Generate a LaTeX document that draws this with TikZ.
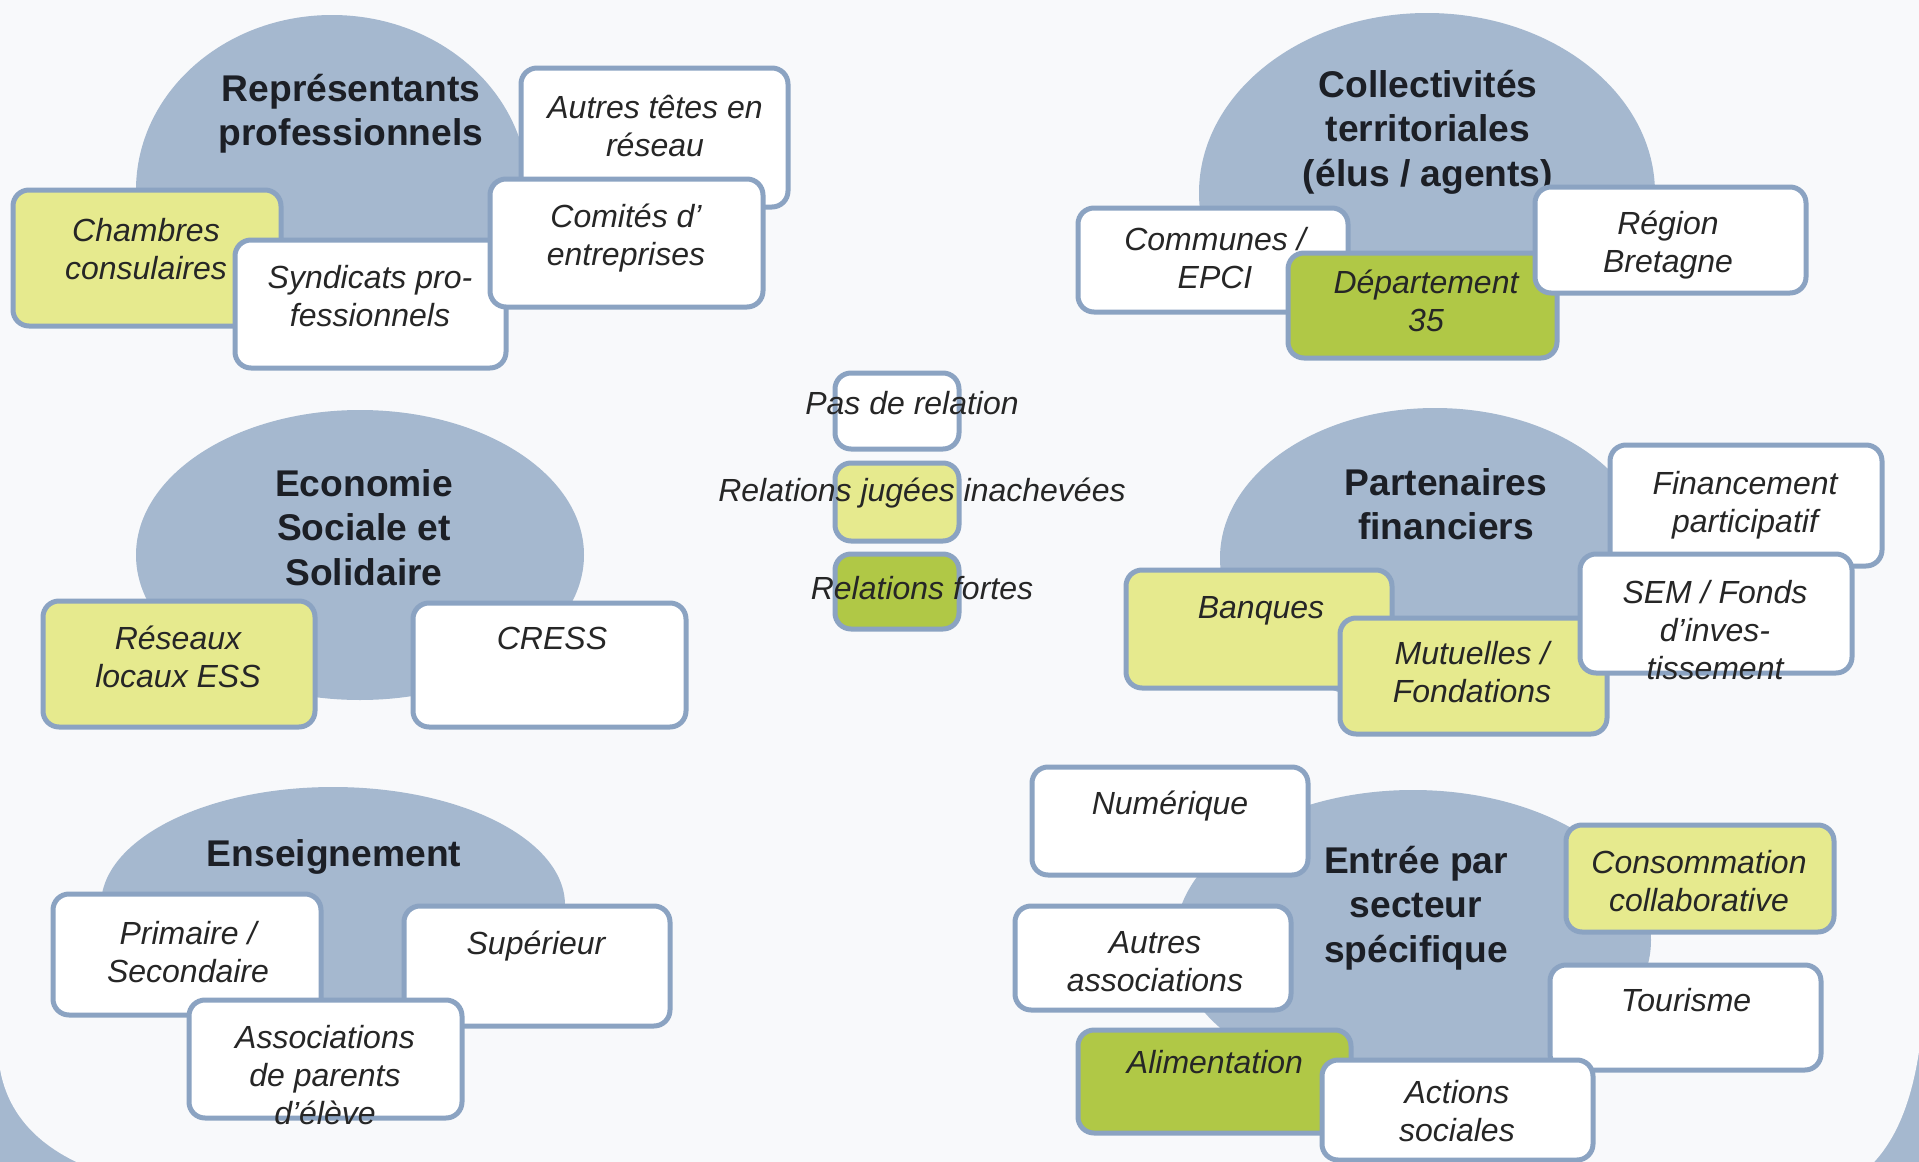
\documentclass[tikz,border=0pt]{standalone}
\usepackage{fontspec}
\setmainfont{Liberation Sans}
\usetikzlibrary{fit,shapes.geometric}
\definecolor{pagebg}{HTML}{F8F9FB}
\definecolor{blobc}{HTML}{A5B8CF}
\definecolor{bord}{HTML}{8BA3C2}
\definecolor{yel}{HTML}{E6EA8E}
\definecolor{grn}{HTML}{B0C846}
\definecolor{ink}{HTML}{262626}
\definecolor{tink}{HTML}{1C1F26}
\begin{document}
\begin{tikzpicture}[x=0.5pt,y=-0.5pt,
  blobshape/.style={ellipse, fill=blobc, draw=none, inner sep=0},
  bx/.style={draw=bord, line width=2.5pt, rounded corners=8pt, inner sep=0, fill=white},
  lab/.style={anchor=base, align=center, inner sep=0, text=ink, font=\fontsize{16}{19.2}\selectfont\itshape},
  ttl/.style={anchor=base, align=center, inner sep=0, text=tink, font=\fontsize{18.6}{22.4}\selectfont\bfseries},
]
\useasboundingbox (0,0) rectangle (1919,1162);
% background
\fill[blobc] (0,0) rectangle (1919,1162);
\fill[pagebg] (-5,-5) -- (1925,-5) -- (1925,960) .. controls (1925,1070) and (1905,1140) .. (1860,1175) -- (110,1175) .. controls (45,1155) and (-2,1115) .. (-2,1045) -- cycle;

% blobs
\begin{scope}
\clip (0,0) rectangle (800,322);
\node[blobshape, minimum width=196pt, minimum height=175pt] (b1) at (332,190) {};
\end{scope}
\begin{scope}
\clip (1000,0) rectangle (1919,290);
\node[blobshape, minimum width=228pt, minimum height=180pt] (b2) at (1427,193) {};
\end{scope}
\node[blobshape, minimum width=224pt, minimum height=145pt] (b3) at (360,555) {};
\node[blobshape, minimum width=215pt, minimum height=150pt] (b4) at (1435,558) {};
\node[blobshape, minimum width=232pt, minimum height=118pt] (b5) at (333,905) {};
\node[blobshape, minimum width=238pt, minimum height=150pt] (b6) at (1413,940) {};

% titles
\node[ttl] (t1) at (351,145.8) {Représentants\\professionnels};
\node[ttl] (t2) at (1428,186.6) {Collectivités\\territoriales\\(élus / agents)};
\node[ttl] (t3) at (364,585.6) {Economie\\Sociale et\\Solidaire};
\node[ttl] (t4) at (1446,539.8) {Partenaires\\financiers};
\node[ttl] (t5) at (334,866) {Enseignement};
\node[ttl] (t6) at (1416,962.6) {Entrée par\\secteur\\spécifique};

% group 1
\node[bx, fill=yel, fit={(13,190) (281,326)}] (chambres) {};
\node[lab] (tchambres) at (146,279.4) {Chambres\\consulaires};
\node[bx, fit={(235,240) (506,368)}] (syndicats) {};
\node[lab] (tsyndicats) at (370,326.4) {Syndicats pro-\\fessionnels};
\node[bx, fit={(521,68) (788,207)}] (autres) {};
\node[lab] (tautres) at (655,156.4) {Autres têtes en\\réseau};
\node[bx, fit={(490,179) (763,307)}] (comites) {};
\node[lab] (tcomites) at (626,265.4) {Comités d’\\entreprises};

% group 2
\node[bx, fit={(1078,208) (1348,312)}] (communes) {};
\node[lab] (tcommunes) at (1215,288.4) {Communes /\\EPCI};
\node[bx, fill=grn, fit={(1288,253) (1557,358)}] (dept) {};
\node[lab] (tdept) at (1426,331.4) {Département\\35};
\node[bx, fit={(1535,187) (1806,293)}] (region) {};
\node[lab] (tregion) at (1668,272.4) {Région\\Bretagne};

% legend
\node[bx, fit={(835,373) (959,449)}] (leg1) {};
\node[bx, fill=yel, fit={(835,463) (959,541)}] (leg2) {};
\node[bx, fill=grn, fit={(835,554) (959,629)}] (leg3) {};
\node[lab] (tleg1) at (912,414) {Pas de relation};
\node[lab] (tleg2) at (922,501) {Relations jugées inachevées};
\node[lab] (tleg3) at (922,599) {Relations fortes};

% group 3
\node[bx, fill=yel, fit={(43,601) (315,727)}] (reseaux) {};
\node[lab] (treseaux) at (178,687.4) {Réseaux\\locaux ESS};
\node[bx, fit={(413,603) (686,727)}] (cress) {};
\node[lab] (tcress) at (552,649) {CRESS};

% group 4
\node[bx, fit={(1610,445) (1882,566)}] (financement) {};
\node[lab] (tfinancement) at (1745,532.4) {Financement\\participatif};
\node[bx, fill=yel, fit={(1126,570) (1392,688)}] (banques) {};
\node[lab] (tbanques) at (1261,618) {Banques};
\node[bx, fill=yel, fit={(1340,618) (1607,734)}] (mutuelles) {};
\node[lab] (tmutuelles) at (1472,702.4) {Mutuelles /\\Fondations};
\node[bx, fit={(1580,554) (1852,673)}] (sem) {};
\node[lab] (tsem) at (1715,679.8) {SEM / Fonds\\d’inves-\\tissement};

% group 5
\node[bx, fit={(53,894) (321,1015)}] (primaire) {};
\node[lab] (tprimaire) at (188,982.4) {Primaire /\\Secondaire};
\node[bx, fit={(404,906) (670,1026)}] (superieur) {};
\node[lab] (tsuperieur) at (536,954) {Supérieur};
\node[bx, fit={(189,1000) (462,1118)}] (assoc) {};
\node[lab] (tassoc) at (325,1124.8) {Associations\\de parents\\d’élève};

% group 6
\node[bx, fit={(1032,767) (1308,875)}] (numerique) {};
\node[lab] (tnumerique) at (1170,814) {Numérique};
\node[bx, fill=yel, fit={(1566,825) (1834,932)}] (conso) {};
\node[lab] (tconso) at (1699,911.4) {Consommation\\collaborative};
\node[bx, fit={(1015,906) (1291,1010)}] (autresassoc) {};
\node[lab] (tautresassoc) at (1155,991.4) {Autres\\associations};
\node[bx, fit={(1550,965) (1821,1070)}] (tourisme) {};
\node[lab] (ttourisme) at (1686,1011) {Tourisme};
\node[bx, fill=grn, fit={(1078,1030) (1351,1133)}] (alim) {};
\node[lab] (talim) at (1215,1073) {Alimentation};
\node[bx, fit={(1322,1060) (1593,1160)}] (actions) {};
\node[lab] (tactions) at (1457,1141.4) {Actions\\sociales};
\end{tikzpicture}
\end{document}
